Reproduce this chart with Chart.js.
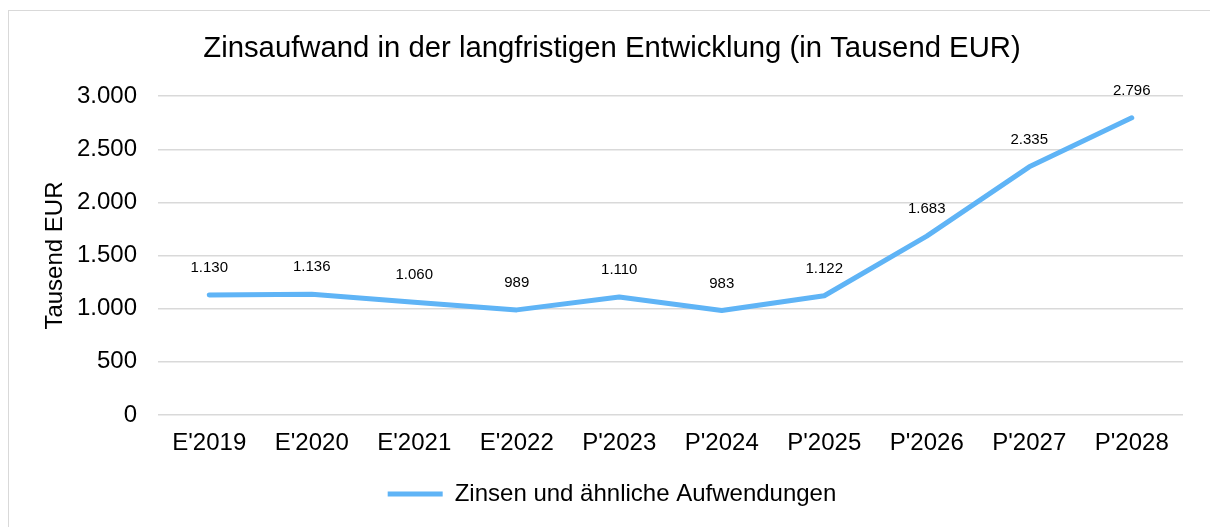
<!DOCTYPE html>
<html>
<head>
<meta charset="utf-8">
<script src="https://cdn.jsdelivr.net/npm/chart.js@4"></script>
<style>
  html, body { margin: 0; padding: 0; background: #fff; overflow: hidden; }
  #wrap { position: relative; width: 1210px; height: 527px; }
  #frame { position: absolute; left: 8px; top: 10px; width: 1210px; height: 540px; border: 1px solid #d9d9d9; box-sizing: border-box; }
  canvas { position: absolute; left: 0; top: 0; }
</style>
</head>
<body>
<div id="wrap">
  <div id="frame"></div>
  <canvas id="c" width="1210" height="527"></canvas>
</div>
<script>
const categories = ["E'2019", "E'2020", "E'2021", "E'2022", "P'2023", "P'2024", "P'2025", "P'2026", "P'2027", "P'2028"];
const zinsen = [1130, 1136, 1060, 989, 1110, 983, 1122, 1683, 2335, 2796];
const seriesName = "Zinsen und ähnliche Aufwendungen";
const chartTitle = "Zinsaufwand in der langfristigen Entwicklung (in Tausend EUR)";
const yAxisTitle = "Tausend EUR";
const yTicks = [0, 500, 1000, 1500, 2000, 2500, 3000];

function fmtDE(v) {
  const s = Math.round(v).toString();
  return s.replace(/\B(?=(\d{3})+(?!\d))/g, ".");
}

const FONT = "'Liberation Sans', Arial, sans-serif";
const lineColor = '#5FB4F6';

const dataLabels = {
  id: 'dataLabels',
  afterDatasetsDraw(chart) {
    const ctx = chart.ctx;
    const meta = chart.getDatasetMeta(0);
    const ds = chart.data.datasets[0];
    ctx.save();
    ctx.font = "15px " + FONT;
    ctx.fillStyle = '#000';
    ctx.textAlign = 'center';
    ctx.textBaseline = 'middle';
    meta.data.forEach((pt, i) => {
      ctx.fillText(fmtDE(ds.data[i]), pt.x, pt.y - 27);
    });
    ctx.restore();
  }
};

new Chart(document.getElementById('c'), {
  type: 'line',
  data: {
    labels: categories,
    datasets: [{
      label: seriesName,
      data: zinsen,
      borderColor: lineColor,
      backgroundColor: lineColor,
      borderWidth: 5,
      borderCapStyle: 'round',
      borderJoinStyle: 'round',
      pointRadius: 0,
      pointHoverRadius: 0,
      tension: 0,
      fill: false
    }]
  },
  options: {
    responsive: false,
    animation: false,
    events: [],
    layout: { padding: { left: 41, right: 27, top: 20, bottom: 11 } },
    plugins: {
      title: {
        display: true,
        text: chartTitle,
        color: '#000',
        font: { family: FONT, size: 29.3, weight: 'normal' },
        padding: { top: 11, bottom: 30 }
      },
      legend: {
        display: true,
        position: 'bottom',
        labels: {
          color: '#000',
          font: { family: FONT, size: 24 },
          usePointStyle: true,
          pointStyle: 'line',
          pointStyleWidth: 55,
          boxHeight: 24
        }
      },
      tooltip: { enabled: false }
    },
    scales: {
      x: {
        offset: true,
        grid: { display: false, drawTicks: false },
        border: { display: false },
        ticks: {
          color: '#000',
          font: { family: FONT, size: 24 },
          padding: 14,
          maxRotation: 0
        },
        afterFit(scale) { scale.height = 57; }
      },
      y: {
        min: 0,
        max: 3000,
        afterBuildTicks(scale) { scale.ticks = yTicks.map(v => ({ value: v })); },
        grid: { color: '#d9d9d9', lineWidth: 1.5, drawTicks: false },
        border: { display: false },
        ticks: {
          color: '#000',
          font: { family: FONT, size: 24 },
          padding: 21,
          callback: (v) => fmtDE(v)
        },
        title: {
          display: true,
          text: yAxisTitle,
          color: '#000',
          font: { family: FONT, size: 24 },
          padding: { top: 0, bottom: 0 }
        },
        afterFit(scale) { scale.width = 117; }
      }
    }
  },
  plugins: [dataLabels]
});
</script>
</body>
</html>
